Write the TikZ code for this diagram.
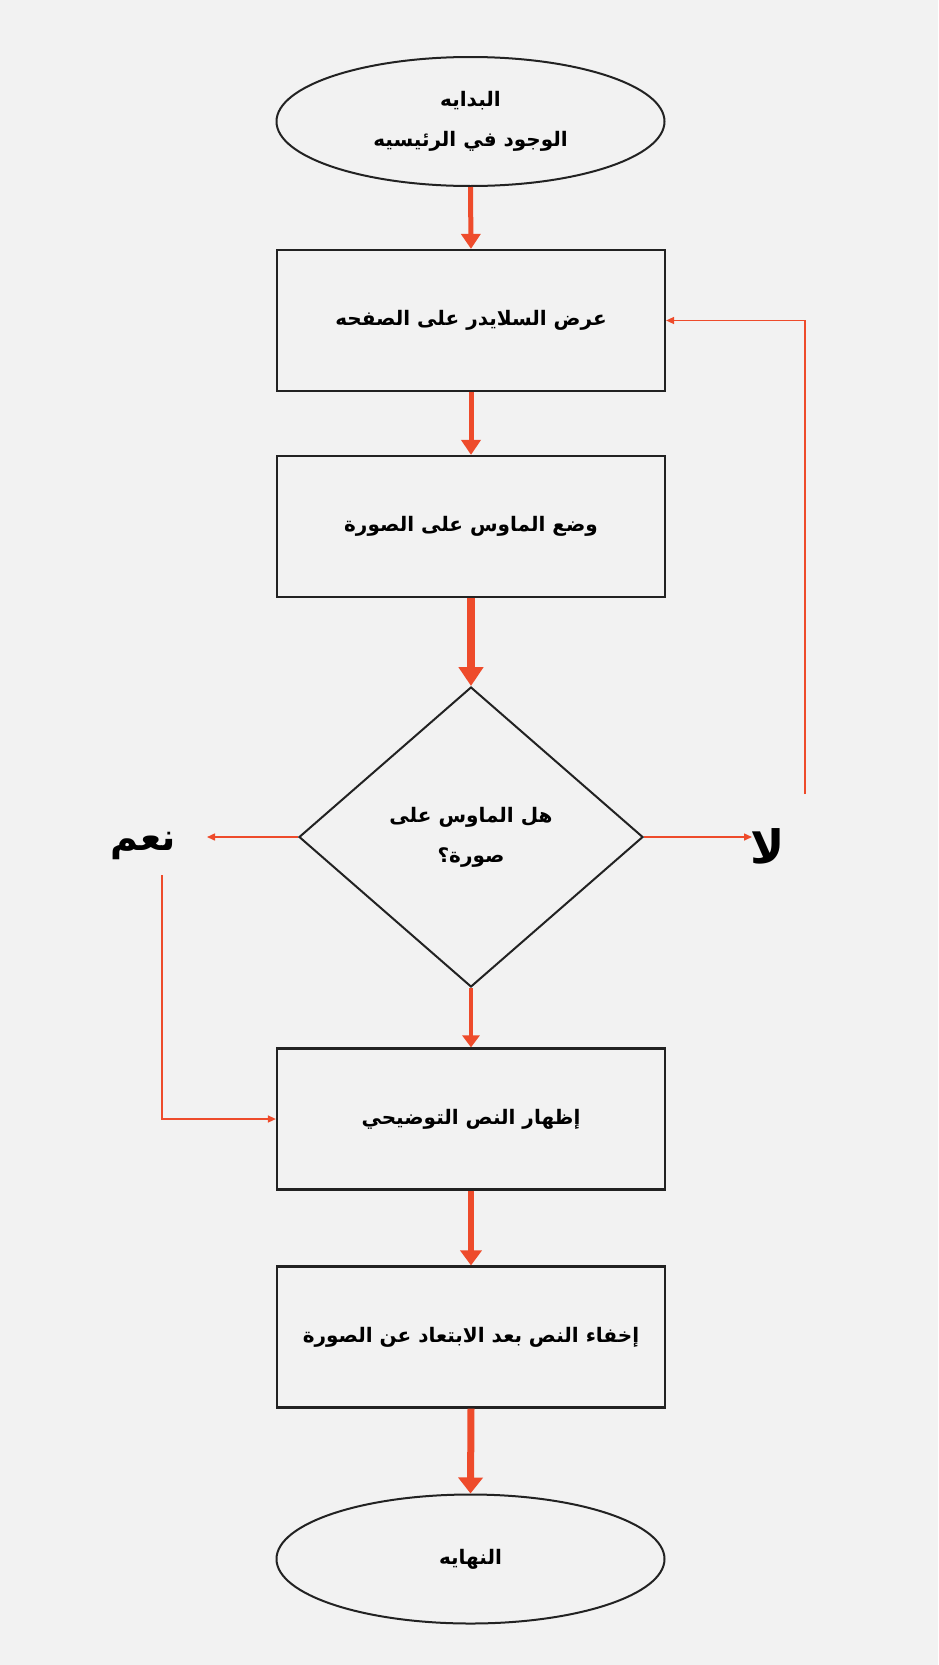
\documentclass[tikz,border=0pt]{standalone}
\usepackage{fontspec}
\usetikzlibrary{shapes.geometric,arrows.meta}
\TeXXeTstate=1
\newfontfamily\arabicfont[Script=Arabic]{DejaVu Sans}
\definecolor{arrowred}{HTML}{EE4B2B}
\definecolor{bgcol}{HTML}{F2F2F2}
\definecolor{edge}{HTML}{222222}
\begin{document}
\begin{tikzpicture}[x=1pt,y=-1pt,
  txt/.style={font=\arabicfont\bfseries\fontsize{20}{40}\selectfont, text=black},
  proc/.style={txt, rectangle, draw=edge, line width=2.2pt, minimum width=388pt, minimum height=141pt, inner sep=0pt},
  term/.style={txt, ellipse, draw=edge, line width=2pt, minimum width=388pt, minimum height=129pt, inner sep=0pt, align=center},
  dec/.style={txt, diamond, draw=edge, line width=2pt, minimum width=344pt, minimum height=300pt, inner sep=0pt, align=center},
  biglabel/.style={font=\arabicfont\bfseries\fontsize{#1}{44}\selectfont, text=black, inner sep=0pt},
  flow/.style={draw=arrowred, line width=#1},
  thinarrow/.style={draw=arrowred, line width=1.5pt, -{Triangle[length=8pt,width=7pt]}}
]
\fill[bgcol] (0,0) rectangle (938,1665);
\useasboundingbox (0,0) rectangle (938,1665);

\node[term] (start) at (470.5,121.5) {\beginR البدايه\endR\\\beginR الوجود في الرئيسيه\endR};
\node[proc] (b1) at (471,320.5) {\beginR عرض السلايدر على الصفحه\endR};
\node[proc] (b2) at (471,526.5) {\beginR وضع الماوس على الصورة\endR};
\node[dec] (dec) at (471,837) {\beginR هل الماوس على\endR\\\beginR صورة؟\endR};
\node[proc] (b3) at (471,1119) {\beginR إظهار النص التوضيحي\endR};
\node[proc] (b4) at (471,1337) {\beginR إخفاء النص بعد الابتعاد عن الصورة\endR};
\node[term] (end) at (470.5,1559) {\beginR النهايه\endR};

\node[biglabel=46] (no) at (768,846) {\beginR لا\endR};
\node[biglabel=38] (yes) at (143,846) {\beginR نعم\endR};

\coordinate (noend) at (752,837);
\coordinate (nobot) at (805,794);
\coordinate (yesend) at (207,837);
\coordinate (yestop) at (162,875);

\draw[flow=5pt, -{Triangle[length=15pt,width=19pt]}] (start.south) -- (b1.north);
\draw[flow=5pt, -{Triangle[length=15pt,width=19pt]}] (b1.south) -- (b2.north);
\draw[flow=8pt, -{Triangle[length=19pt,width=24pt]}] (b2.south) -- (dec.north);
\draw[flow=4.5pt, -{Triangle[length=12pt,width=17pt]}] (dec.south) -- (b3.north);
\draw[flow=6pt, -{Triangle[length=15pt,width=21pt]}] (b3.south) -- (b4.north);
\draw[flow=7pt, -{Triangle[length=16pt,width=24pt]}] (b4.south) -- (end.north);

\draw[thinarrow] (dec.east) -- (noend);
\draw[thinarrow] (nobot) |- (b1.east);
\draw[thinarrow] (dec.west) -- (yesend);
\draw[thinarrow] (yestop) |- (b3.west);
\end{tikzpicture}
\end{document}
